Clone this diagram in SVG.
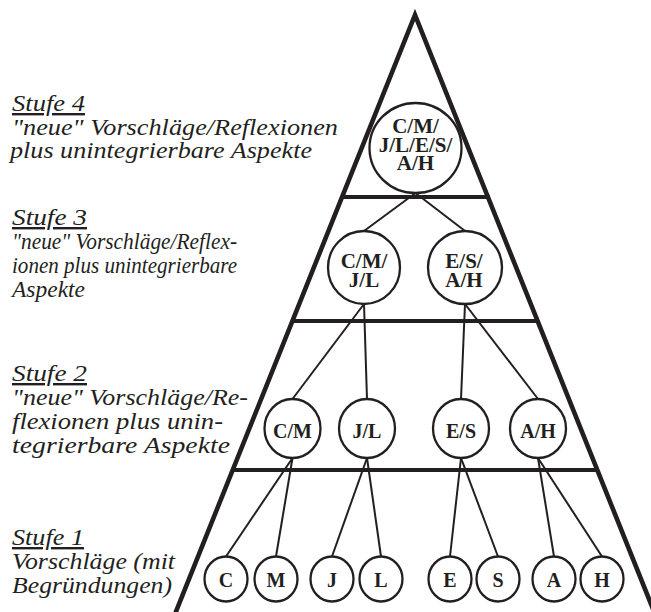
<svg xmlns="http://www.w3.org/2000/svg" width="651" height="612" viewBox="0 0 651 612">
<style>
.lbl{font-family:"Liberation Serif","Times New Roman",serif;font-style:italic;font-size:24px;fill:#231f20}
.u{text-decoration:underline}
.nt{font-family:"Liberation Serif","Times New Roman",serif;font-weight:bold;font-size:20px;fill:#231f20;text-anchor:middle}
.big{font-size:21px}
.node ellipse{fill:#fff;stroke:#231f20;stroke-width:2.3}
.frame{fill:none;stroke:#231f20;stroke-width:4.6;stroke-linejoin:miter;stroke-miterlimit:20}
.level{stroke:#231f20;stroke-width:3.8}
.conn line{stroke:#231f20;stroke-width:2}
</style>
<rect width="651" height="612" fill="#fff"/>
<g id="pyramid">
<path class="frame" d="M175,614 L415,15 L655,614"/>
<line class="level" x1="341" y1="197" x2="490" y2="197"/>
<line class="level" x1="291" y1="321" x2="539" y2="321"/>
<line class="level" x1="233" y1="470" x2="597" y2="470"/>
</g>
<g id="connectors" class="conn">
<line x1="415.5" y1="193" x2="364" y2="231"/>
<line x1="415.5" y1="193" x2="465" y2="231"/>
<line x1="364" y1="304" x2="292.5" y2="399"/>
<line x1="364" y1="304" x2="367" y2="399"/>
<line x1="465" y1="304" x2="461" y2="399"/>
<line x1="465" y1="304" x2="538" y2="399"/>
<line x1="292.5" y1="458" x2="226" y2="556.5"/>
<line x1="292.5" y1="458" x2="276" y2="556.5"/>
<line x1="367" y1="458" x2="332" y2="556.5"/>
<line x1="367" y1="458" x2="381" y2="556.5"/>
<line x1="461" y1="458" x2="450" y2="556.5"/>
<line x1="461" y1="458" x2="498" y2="556.5"/>
<line x1="538" y1="458" x2="554" y2="556.5"/>
<line x1="538" y1="458" x2="602" y2="556.5"/>
</g>
<g id="n-all" class="node"><ellipse cx="415.5" cy="148" rx="46" ry="45"/><text class="nt big" x="415.5" y="133">C/M/</text><text class="nt big" x="415.5" y="151.5">J/L/E/S/</text><text class="nt big" x="415.5" y="170">A/H</text></g>
<g id="n-CMJL" class="node"><ellipse cx="364" cy="267.5" rx="36" ry="36.5"/><text class="nt big" x="364" y="268">C/M/</text><text class="nt big" x="364" y="287">J/L</text></g>
<g id="n-ESAH" class="node"><ellipse cx="465" cy="267.5" rx="37" ry="36.5"/><text class="nt big" x="464" y="268">E/S/</text><text class="nt big" x="464" y="287">A/H</text></g>
<g id="n-CM" class="node"><ellipse cx="292.5" cy="428.5" rx="28" ry="29.5"/><text class="nt" x="292.5" y="438">C/M</text></g>
<g id="n-JL" class="node"><ellipse cx="367" cy="428.5" rx="28" ry="29.5"/><text class="nt" x="367" y="438">J/L</text></g>
<g id="n-ES" class="node"><ellipse cx="461" cy="428.5" rx="28" ry="29.5"/><text class="nt" x="461" y="438">E/S</text></g>
<g id="n-AH" class="node"><ellipse cx="538" cy="428.5" rx="28" ry="29.5"/><text class="nt" x="538" y="438">A/H</text></g>
<g id="n-C" class="node"><ellipse cx="226" cy="579" rx="21.5" ry="22.5"/><text class="nt" x="226" y="586.5">C</text></g>
<g id="n-M" class="node"><ellipse cx="276" cy="579" rx="21.5" ry="22.5"/><text class="nt" x="276" y="586.5">M</text></g>
<g id="n-J" class="node"><ellipse cx="332" cy="579" rx="21.5" ry="22.5"/><text class="nt" x="332" y="586.5">J</text></g>
<g id="n-L" class="node"><ellipse cx="381" cy="579" rx="21.5" ry="22.5"/><text class="nt" x="381" y="586.5">L</text></g>
<g id="n-E" class="node"><ellipse cx="450" cy="579" rx="21.5" ry="22.5"/><text class="nt" x="450" y="586.5">E</text></g>
<g id="n-S" class="node"><ellipse cx="498" cy="579" rx="21.5" ry="22.5"/><text class="nt" x="498" y="586.5">S</text></g>
<g id="n-A" class="node"><ellipse cx="554" cy="579" rx="21.5" ry="22.5"/><text class="nt" x="554" y="586.5">A</text></g>
<g id="n-H" class="node"><ellipse cx="602" cy="579" rx="21.5" ry="22.5"/><text class="nt" x="602" y="586.5">H</text></g>
<g id="label-4">
<text class="lbl u" x="12" y="111" textLength="73" lengthAdjust="spacingAndGlyphs">Stufe 4</text>
<text class="lbl" x="12" y="135" textLength="326" lengthAdjust="spacingAndGlyphs">"neue" Vorschläge/Reflexionen</text>
<text class="lbl" x="10" y="158" textLength="302" lengthAdjust="spacingAndGlyphs">plus unintegrierbare Aspekte</text>
</g>
<g id="label-3">
<text class="lbl u" x="12" y="225" textLength="75" lengthAdjust="spacingAndGlyphs">Stufe 3</text>
<text class="lbl" x="12" y="249" textLength="225" lengthAdjust="spacingAndGlyphs">"neue" Vorschläge/Reflex-</text>
<text class="lbl" x="12" y="273" textLength="225" lengthAdjust="spacingAndGlyphs">ionen plus unintegrierbare</text>
<text class="lbl" x="12" y="297" textLength="73" lengthAdjust="spacingAndGlyphs">Aspekte</text>
</g>
<g id="label-2">
<text class="lbl u" x="12" y="381" textLength="75" lengthAdjust="spacingAndGlyphs">Stufe 2</text>
<text class="lbl" x="12" y="405" textLength="236" lengthAdjust="spacingAndGlyphs">"neue" Vorschläge/Re-</text>
<text class="lbl" x="12" y="429" textLength="211" lengthAdjust="spacingAndGlyphs">flexionen plus unin-</text>
<text class="lbl" x="12" y="453" textLength="218" lengthAdjust="spacingAndGlyphs">tegrierbare Aspekte</text>
</g>
<g id="label-1">
<text class="lbl u" x="12" y="545" textLength="72" lengthAdjust="spacingAndGlyphs">Stufe 1</text>
<text class="lbl" x="12" y="569" textLength="163" lengthAdjust="spacingAndGlyphs">Vorschläge (mit</text>
<text class="lbl" x="12" y="593" textLength="160" lengthAdjust="spacingAndGlyphs">Begründungen)</text>
</g>
</svg>
